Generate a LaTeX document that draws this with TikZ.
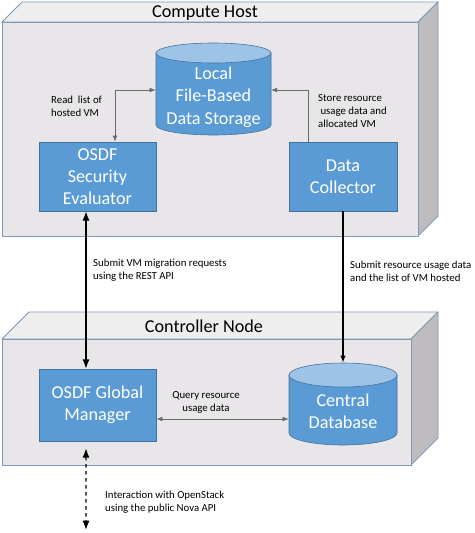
\documentclass[tikz,border=0pt]{standalone}
\usepackage{fontspec}
\setmainfont{Carlito}
\usetikzlibrary{arrows.meta}

\definecolor{boxblue}{HTML}{5B9BD5}
\definecolor{boxedge}{HTML}{41719C}
\definecolor{topblue}{HTML}{9DC3E6}
\definecolor{hostfront}{HTML}{E8E6E8}
\definecolor{hosttop}{HTML}{EFEEEF}
\definecolor{hostside}{HTML}{BEBCBE}
\definecolor{hostedge}{HTML}{7F98B8}
\definecolor{linkgray}{HTML}{6A6A6A}

\tikzset{
  hostface/.style={draw=hostedge, line width=0.8pt, line join=round},
  blockbox/.style={fill=boxblue, draw=boxedge, line width=0.5pt, text=white,
    font=\fontsize{15.5}{19}\selectfont, align=center, inner sep=0pt},
  dbtext/.style={text=white, font=\fontsize{15.5}{19}\selectfont, align=center, inner sep=0pt},
  dbbody/.style={fill=boxblue, draw=boxedge, line width=0.5pt},
  dbtop/.style={fill=topblue, draw=boxedge, line width=0.5pt},
  hosttitle/.style={font=\fontsize{15.5}{19}\selectfont},
  note/.style={font=\fontsize{9.2}{11}\selectfont, align=left, inner sep=0pt, anchor=west},
  thinlink/.style={draw=linkgray, line width=0.5pt, arrows={-Latex[length=5pt,width=4pt]}},
  thicklink/.style={draw=black, line width=1.1pt, arrows={-Latex[length=6pt,width=4.5pt]}},
}

\begin{document}
\begin{tikzpicture}[x=0.03cm, y=-0.03cm]
    \useasboundingbox (0,0) rectangle (474,533);

    % --- COMPUTE HOST ---
    \fill[white] (0,0) rectangle (474,533);
    \filldraw[hostface, fill=hosttop] (2,22) -- (22,2) -- (438,2) -- (418,22) -- cycle;
    \filldraw[hostface, fill=hostside] (418,22) -- (438,2) -- (438,216) -- (418,236) -- cycle;
    \filldraw[hostface, fill=hostfront] (2,22) rectangle (418,236);
    \node[hosttitle] (hosttitle) at (205,13) {Compute Host};

    % lokalny magazyn (cylinder)
    \draw[dbbody] (156,53) -- (156,125) arc[start angle=180, end angle=360, x radius=1.725cm, y radius=0.3cm] -- (271,53) -- cycle;
    \draw[dbtop] (213.5,53) ellipse [x radius=1.725cm, y radius=0.3cm];
    \node[dbtext, minimum width=3.45cm] (local) at (213.5,97) {Local\\File-Based\\Data Storage};

    \node[blockbox, minimum width=3.51cm, minimum height=2.07cm] (eval) at (97.5,176.5) {OSDF\\Security\\Evaluator};
    \node[blockbox, minimum width=3.24cm, minimum height=2.07cm] (coll) at (343,176.5) {Data\\Collector};

    % --- CONTROLLER NODE ---
    \filldraw[hostface, fill=hosttop] (2,339) -- (29,312) -- (438,312) -- (411,339) -- cycle;
    \filldraw[hostface, fill=hostside] (411,339) -- (438,312) -- (438,438) -- (411,465) -- cycle;
    \filldraw[hostface, fill=hostfront] (2,339) rectangle (411,465);
    \node[hosttitle] (ctrltitle) at (204,326) {Controller Node};

    \node[blockbox, minimum width=3.51cm, minimum height=2.16cm] (mgr) at (97.5,405) {OSDF Global\\Manager};

    % centralna baza (cylinder)
    \draw[dbbody] (289,375) -- (289,433) arc[start angle=180, end angle=360, x radius=1.62cm, y radius=0.36cm] -- (397,375) -- cycle;
    \draw[dbtop] (343,375) ellipse [x radius=1.62cm, y radius=0.36cm];
    \node[dbtext, minimum width=3.24cm, minimum height=2.88cm] (central) at (343,411) {Central\\Database};

    % --- POLACZENIA ---
    \draw[thinlink, Latex-Latex] ([xshift=0.525cm]eval.north) |- ([yshift=0.21cm]local.west);
    \node[note] (readnote) at (51,106.5) {Read\ \ list of\\hosted VM};

    \draw[thinlink] ([xshift=-1.05cm]coll.north) |- ([yshift=0.21cm]local.east);
    \node[note] (storenote) at (318,111) {Store resource\\\hspace*{2pt}usage data and\\allocated VM};

    \draw[thicklink, Latex-Latex] ([xshift=-0.345cm]eval.south) -- ([xshift=-0.345cm]mgr.north);
    \node[note] (migrnote) at (93,270.5) {Submit VM migration requests\\using the REST API};

    \draw[thicklink] (coll.south) -- (central.north);
    \node[note] (usagenote) at (350,271.5) {Submit resource usage data\\and the list of VM hosted};

    \draw[thinlink, Latex-Latex] ([yshift=-0.42cm]mgr.east) -- ([yshift=-0.42cm]mgr.east -| central.west);
    \node[note, anchor=center, align=center] (querynote) at (206,402.5) {Query resource\\usage data};

    \coordinate (novaapi) at (86,530);
    \draw[thicklink, dashed, Latex-Latex, shorten <=0.21cm] ([xshift=-0.345cm]mgr.south) -- (novaapi);
    \node[note] (novanote) at (105,502) {Interaction with OpenStack\\using the public Nova API};

\end{tikzpicture}
\end{document}
